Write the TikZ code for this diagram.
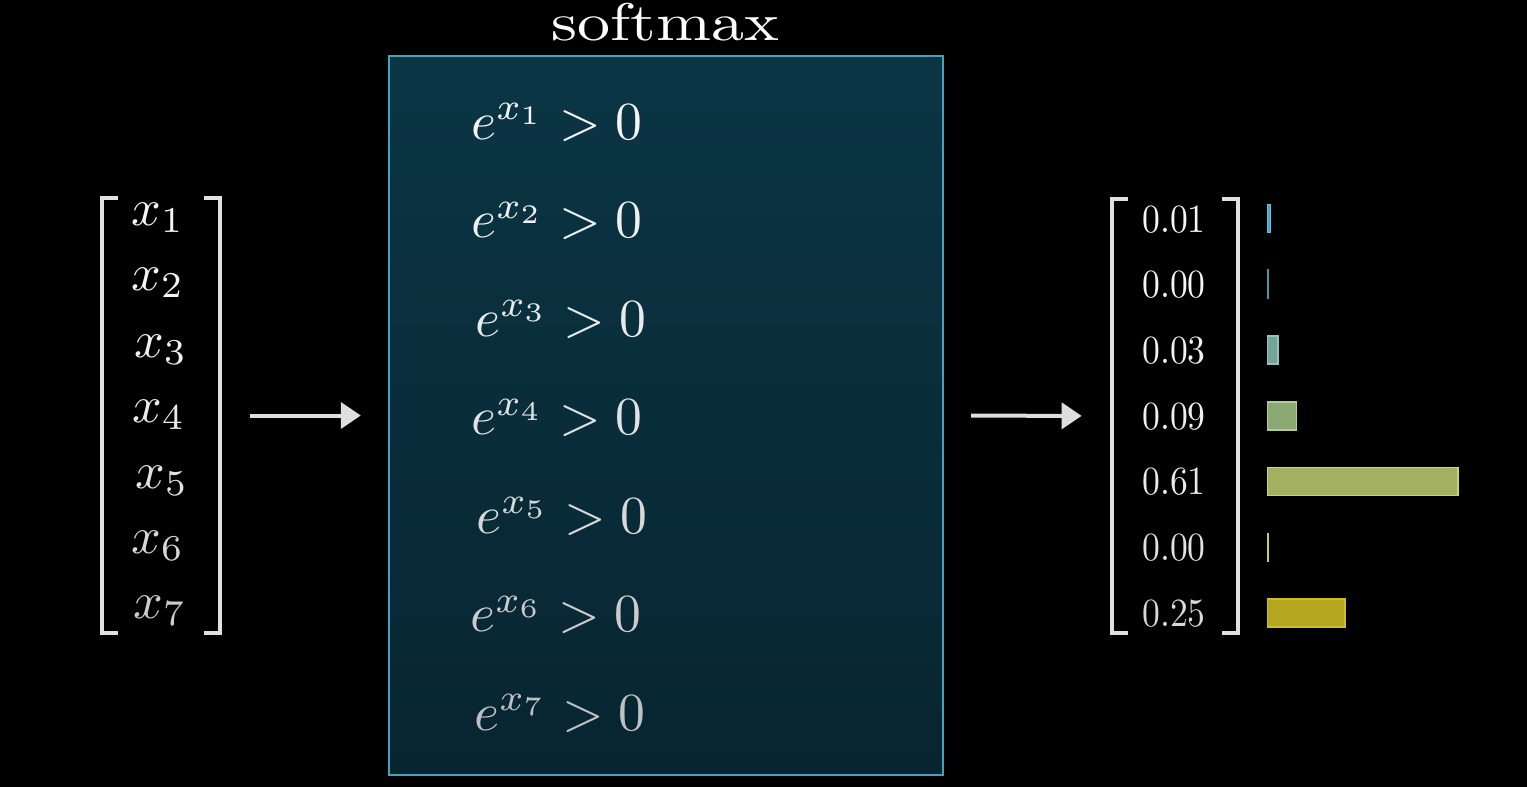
\RequirePackage{fix-cm}
\documentclass[tikz,border=0pt]{standalone}
\usepackage{fontspec}
\usepackage{graphicx}
\usetikzlibrary{arrows.meta}
\definecolor{boxtop}{RGB}{11,53,69}
\definecolor{boxbot}{RGB}{7,37,48}
\definecolor{boxline}{RGB}{72,160,190}
\definecolor{arrowgray}{RGB}{222,222,222}
\definecolor{brk}{RGB}{225,225,225}
\definecolor{t1}{RGB}{245,245,245}
\definecolor{t2}{RGB}{240,240,240}
\definecolor{t3}{RGB}{234,234,234}
\definecolor{t4}{RGB}{226,226,226}
\definecolor{t5}{RGB}{216,216,216}
\definecolor{t6}{RGB}{204,204,204}
\definecolor{t7}{RGB}{192,192,192}
\definecolor{b1f}{RGB}{70,160,200}\definecolor{b1d}{RGB}{110,190,220}
\definecolor{b2f}{RGB}{50,130,150}\definecolor{b2d}{RGB}{70,150,165}
\definecolor{b3f}{RGB}{115,165,155}\definecolor{b3d}{RGB}{150,195,185}
\definecolor{b4f}{RGB}{140,168,115}\definecolor{b4d}{RGB}{180,205,150}
\definecolor{b5f}{RGB}{163,176,96}\definecolor{b5d}{RGB}{200,212,120}
\definecolor{b6f}{RGB}{190,190,60}\definecolor{b6d}{RGB}{205,205,80}
\definecolor{b7f}{RGB}{180,166,30}\definecolor{b7d}{RGB}{205,190,40}
\newcommand\eexp[1]{\scalebox{2.68}{$e^{x_{#1}} > 0$}}
\newcommand\xsub[1]{\scalebox{2.6}{$x_{#1}$}}
\newcommand\pnum[1]{\scalebox{1.78}[2.0]{#1}}
\begin{document}
\begin{tikzpicture}[x=0.5pt,y=-0.5pt,
  smbox/.style={rectangle, inner sep=0, draw=boxline, line width=1.2pt, top color=boxtop, bottom color=boxbot},
  etext/.style={inner sep=0, anchor=base west},
  xtext/.style={inner sep=0, anchor=base},
  ntext/.style={inner sep=0, anchor=base},
  frame/.style={inner sep=0, rectangle},
  brack/.style={draw=brk, line width=2pt},
  arr/.style={draw=arrowgray, line width=2pt, -{Triangle[length=10pt,width=13pt]}},
  bar/.style={anchor=west, inner sep=0, minimum height=14pt, line width=0.6pt}]
\fill[black] (0,0) rectangle (1527,787);
\useasboundingbox (0,0) rectangle (1527,787);
% title
\node[inner sep=0, anchor=base, text=white] (title) at (665,40) {\scalebox{3.3}[2.65]{softmax}};
% box
\node[smbox, minimum width=277pt, minimum height=359.5pt] (sm) at (666,415.5) {};
\node[etext, text=t1] (e1) at (471,139) {\eexp{1}};
\node[etext, text=t2] (e2) at (471,237.5) {\eexp{2}};
\node[etext, text=t3] (e3) at (475,336) {\eexp{3}};
\node[etext, text=t4] (e4) at (471,434.5) {\eexp{4}};
\node[etext, text=t5] (e5) at (476,533) {\eexp{5}};
\node[etext, text=t6] (e6) at (470,631.5) {\eexp{6}};
\node[etext, text=t7] (e7) at (474,730) {\eexp{7}};
% left vector
\node[frame, minimum width=59pt, minimum height=217.5pt] (lv) at (161,415.5) {};
\draw[brack] ([xshift=8pt]lv.north west) -- (lv.north west) -- (lv.south west) -- ([xshift=8pt]lv.south west);
\draw[brack] ([xshift=-8pt]lv.north east) -- (lv.north east) -- (lv.south east) -- ([xshift=-8pt]lv.south east);
\node[xtext, text=t1] (x1) at (158,225) {\xsub{1}};
\node[xtext, text=t1] (x2) at (158,290) {\xsub{2}};
\node[xtext, text=t2] (x3) at (161,357) {\xsub{3}};
\node[xtext, text=t3] (x4) at (159,422) {\xsub{4}};
\node[xtext, text=t4] (x5) at (162,488) {\xsub{5}};
\node[xtext, text=t5] (x6) at (158,553) {\xsub{6}};
\node[xtext, text=t6] (x7) at (160,618) {\xsub{7}};
% right vector
\node[frame, minimum width=63pt, minimum height=217pt] (rv) at (1175,416) {};
\draw[brack] ([xshift=8pt]rv.north west) -- (rv.north west) -- (rv.south west) -- ([xshift=8pt]rv.south west);
\draw[brack] ([xshift=-8pt]rv.north east) -- (rv.north east) -- (rv.south east) -- ([xshift=-8pt]rv.south east);
\node[ntext, text=t1] (p1) at (1174,232) {\pnum{0.01}};
\node[ntext, text=t1] (p2) at (1174,297) {\pnum{0.00}};
\node[ntext, text=t2] (p3) at (1174,363) {\pnum{0.03}};
\node[ntext, text=t2] (p4) at (1174,429) {\pnum{0.09}};
\node[ntext, text=t3] (p5) at (1174,494) {\pnum{0.61}};
\node[ntext, text=t4] (p6) at (1174,560) {\pnum{0.00}};
\node[ntext, text=t5] (p7) at (1174,626) {\pnum{0.25}};
% bars
\node[bar, fill=b1f, draw=b1d, minimum width=1.6pt] (bar1) at (1267,218.5) {};
\node[bar, fill=b2f, draw=b2d, minimum width=0.2pt] (bar2) at (1267,284) {};
\node[bar, fill=b3f, draw=b3d, minimum width=5.2pt] (bar3) at (1267,350) {};
\node[bar, fill=b4f, draw=b4d, minimum width=14.6pt] (bar4) at (1267,416) {};
\node[bar, fill=b5f, draw=b5d, minimum width=95.2pt] (bar5) at (1267,481.5) {};
\node[bar, fill=b6f, draw=b6d, minimum width=0.2pt] (bar6) at (1267,547.5) {};
\node[bar, fill=b7f, draw=b7d, minimum width=38.7pt] (bar7) at (1267,613) {};
% arrows
\draw[arr, shorten <=15pt, shorten >=13.5pt] (lv.east) -- (sm.west);
\draw[arr, shorten <=13.5pt, shorten >=15pt] (sm.east) -- (rv.west);
\end{tikzpicture}
\end{document}
